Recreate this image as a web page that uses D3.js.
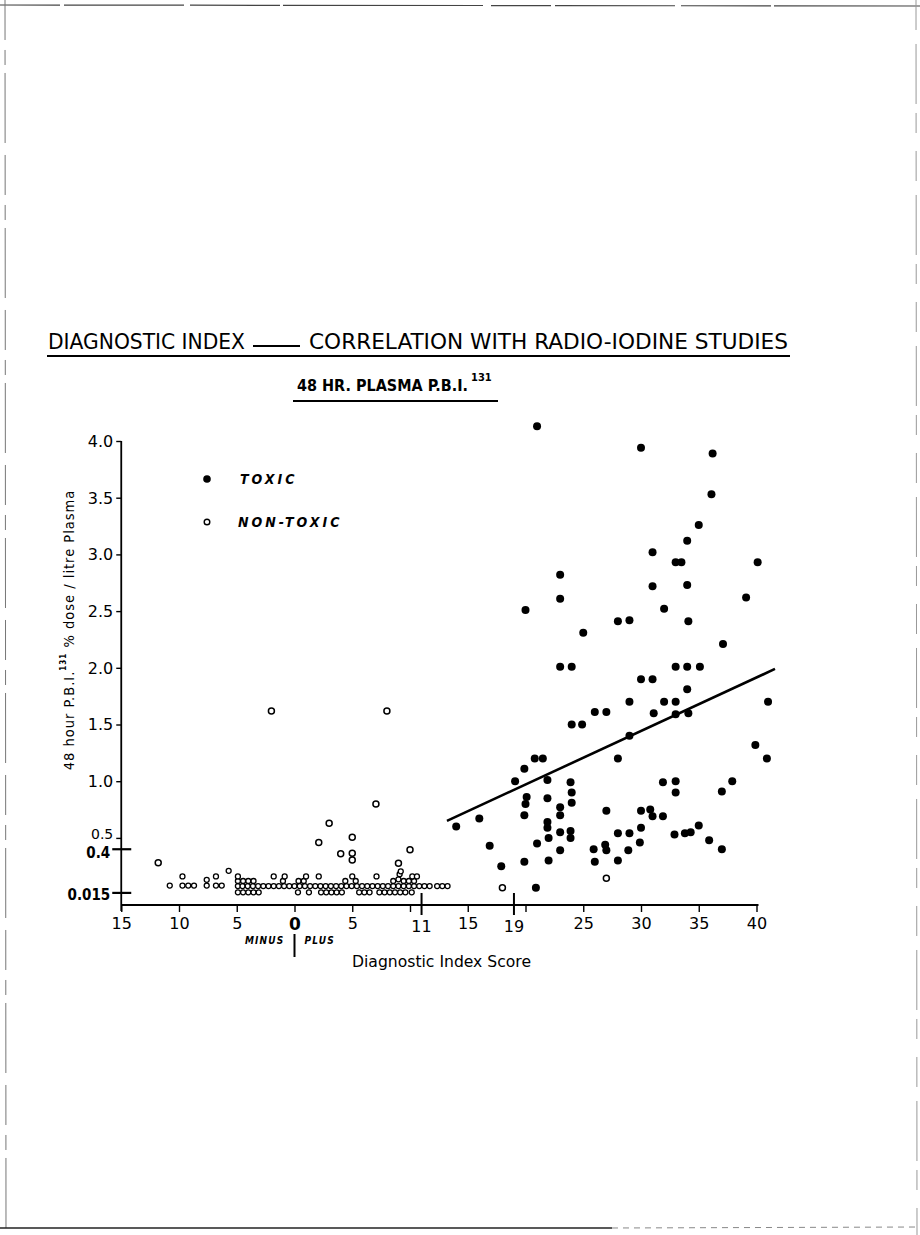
<!DOCTYPE html>
<html>
<head>
<meta charset="utf-8">
<script src="https://cdn.jsdelivr.net/npm/d3@7"></script>
<style>
  body { margin: 0; background: #fff; }
  svg { display: block; }
</style>
</head>
<body>
<svg id="chart" width="920" height="1235"></svg>
<script>
// ---- Data: [diagnostic index score (minus scores negative), 48 hr PBI131 % dose / litre plasma]
const toxic = [
  [21,4.13],[30,3.94],[36.2,3.89],[36.1,3.53],[35,3.26],[34,3.12],[31,3.02],[33,2.93],[33.5,2.93],
  [40.1,2.93],[23,2.82],[31,2.72],[34,2.73],[23,2.61],[39.1,2.62],[20,2.51],[32,2.52],[28,2.41],
  [29,2.42],[34.1,2.41],[25,2.31],[37.1,2.21],[23,2.01],[24,2.01],[33,2.01],[34,2.01],[35.1,2.01],
  [30,1.90],[31,1.90],[34,1.81],[29,1.70],[32,1.70],[33,1.70],[41,1.70],[26,1.61],[27,1.61],
  [31.1,1.60],[33,1.59],[34.1,1.60],[24,1.50],[24.9,1.50],[29,1.40],[39.9,1.32],[20.8,1.20],
  [21.5,1.20],[28,1.20],[40.9,1.20],[19.9,1.11],[19.1,1.00],[21.9,1.01],[23.9,0.99],[31.9,0.99],
  [33,1.00],[37.9,1.00],[37,0.91],[33,0.90],[24,0.90],[20.1,0.86],[21.9,0.85],[20,0.80],[24,0.81],
  [23,0.77],[23,0.70],[19.9,0.70],[27,0.74],[30,0.74],[30.8,0.75],[31,0.69],[31.9,0.69],[14,0.60],
  [16,0.67],[21.9,0.64],[21.9,0.59],[23,0.55],[23.9,0.56],[23.9,0.50],[22,0.50],[28,0.54],[29,0.54],
  [30,0.59],[32.9,0.53],[33.8,0.54],[34.3,0.55],[35,0.61],[35.9,0.48],[37,0.40],[29.9,0.46],
  [16.9,0.43],[21,0.45],[23,0.39],[25.9,0.40],[26.9,0.44],[27,0.39],[28.9,0.39],[17.9,0.25],
  [19.9,0.29],[22,0.30],[26,0.29],[28,0.30],[20.9,0.06]
];

// Non-toxic cases standing clear of the baseline cluster
const nonToxicRaised = [
  [-2,1.62],[8,1.62],[7.05,0.80],[3,0.63],[2.1,0.46],[5,0.505],[4,0.36],[5,0.364],[5,0.305],
  [9,0.276],[10,0.396],[-11.8,0.28],[18,0.06],[27,0.144]
];

// Non-toxic cases packed along the baseline
const nonToxicBaseline = [
  [-10.8,0.08],[-9.7,0.16],[-9.7,0.08],[-9.2,0.08],[-8.7,0.08],[-7.6,0.13],[-7.6,0.08],
  [-6.8,0.16],[-6.8,0.08],[-6.3,0.08],[-5.7,0.21],
  [-4.9,0.075],[-4.5,0.075],[-4.05,0.075],[-3.6,0.075],[-3.15,0.075],[-2.7,0.075],[-2.25,0.075],
  [-1.8,0.075],[-1.35,0.075],[-0.9,0.075],[-0.45,0.075],[0,0.075],[0.45,0.075],[0.9,0.075],
  [1.35,0.075],[1.8,0.075],[2.25,0.075],[2.7,0.075],[3.15,0.075],[3.6,0.075],[4.05,0.075],
  [4.5,0.075],[4.95,0.075],[5.4,0.075],[5.85,0.075],[6.3,0.075],[6.75,0.075],[7.2,0.075],
  [7.65,0.075],[8.1,0.075],[8.55,0.075],[9.0,0.075],[9.45,0.075],[9.9,0.075],[10.35,0.075],
  [10.8,0.075],[11.25,0.075],[11.7,0.075],[12.35,0.075],[12.8,0.075],[13.25,0.075],
  [-4.9,0.02],[-4.45,0.02],[-4.0,0.02],[-3.55,0.02],[-3.1,0.02],[0.3,0.02],[1.25,0.02],
  [2.3,0.02],[2.75,0.02],[3.2,0.02],[3.65,0.02],[4.1,0.02],[5.6,0.02],[6.05,0.02],[6.5,0.02],
  [7.35,0.02],[7.8,0.02],[8.25,0.02],[8.7,0.02],[9.15,0.02],[9.6,0.02],[10.15,0.02],
  [-4.9,0.12],[-4.45,0.12],[-4.0,0.12],[-3.55,0.12],[-1.0,0.12],[0.35,0.12],[0.8,0.12],
  [4.4,0.12],[5.3,0.12],[8.55,0.12],[9.0,0.135],[9.45,0.12],[9.9,0.12],[10.35,0.12],
  [-4.9,0.16],[-1.8,0.16],[-0.85,0.16],[1.0,0.16],[2.1,0.16],[5.0,0.16],[7.1,0.16],
  [9.1,0.18],[10.2,0.16],[10.6,0.16],[9.2,0.205]
];

// Fitted line through the toxic group
const trendLine = [[13.2,0.65],[41.6,1.99]];

// Axis ticks
const yTicks = [0.5,1.0,1.5,2.0,2.5,3.0,3.5,4.0];
const yMarkedTicks = [0.4,0.015];
const yMarkedLabels = ["0.4","0.015"];
const xTicks = [-15,-10,-5,0,5,10,15,20,25,30,35,40];
const xTickLabels = ["15","10","5","0","5","","15","","25","30","35","40"];
const xMarkedTicks = [11,19];
const xMarkedLabels = ["11","19"];

// ---- Drawing
const svg = d3.select("#chart");
const FONT = "'DejaVu Sans Condensed','DejaVu Sans',sans-serif";
const TICK_FONT = "'DejaVu Sans',sans-serif";
svg.append("rect").attr("width", 920).attr("height", 1235).attr("fill", "#fff");

// scanned sheet edges
const edge = svg.append("g").attr("fill", "none");
edge.append("line").attr("x1", 0).attr("x2", 920).attr("y1", 5).attr("y2", 6)
  .attr("stroke", "#444").attr("stroke-width", 1.2).attr("stroke-dasharray", "60 4 120 6 90 3 200 8");
edge.append("line").attr("x1", 5).attr("x2", 6).attr("y1", 0).attr("y2", 1235)
  .attr("stroke", "#777").attr("stroke-width", 1).attr("stroke-dasharray", "40 10 15 8 70 12");
edge.append("line").attr("x1", 916).attr("x2", 917).attr("y1", 0).attr("y2", 1235)
  .attr("stroke", "#999").attr("stroke-width", 1).attr("stroke-dasharray", "30 14 60 9 20 18");
edge.append("line").attr("x1", 0).attr("x2", 612).attr("y1", 1228).attr("y2", 1228)
  .attr("stroke", "#222").attr("stroke-width", 1.6);
edge.append("line").attr("x1", 612).attr("x2", 920).attr("y1", 1228).attr("y2", 1227)
  .attr("stroke", "#888").attr("stroke-width", 1).attr("stroke-dasharray", "6 5");

const x = d3.scaleLinear().domain([-15, 40]).range([121.25, 756.5]);
const y = d3.scaleLinear().domain([0, 4]).range([894.6, 441]);
const xAxisY = 905;
const yAxisX = x(-15);

// Titles
const title = svg.append("g").attr("font-family", FONT).attr("fill", "#000");
title.append("text").attr("x", 48).attr("y", 349).attr("font-size", 21)
  .attr("textLength", 197).attr("lengthAdjust", "spacingAndGlyphs").text("DIAGNOSTIC INDEX");
title.append("line").attr("x1", 253).attr("x2", 300).attr("y1", 346).attr("y2", 346)
  .attr("stroke", "#000").attr("stroke-width", 1.8);
title.append("text").attr("x", 309).attr("y", 349).attr("font-size", 21)
  .attr("textLength", 479).attr("lengthAdjust", "spacingAndGlyphs")
  .text("CORRELATION WITH RADIO-IODINE STUDIES");
title.append("line").attr("x1", 47).attr("x2", 790).attr("y1", 356).attr("y2", 356)
  .attr("stroke", "#000").attr("stroke-width", 2);

title.append("text").attr("x", 297).attr("y", 391).attr("font-size", 15).attr("font-weight", "bold")
  .attr("textLength", 171).attr("lengthAdjust", "spacingAndGlyphs").text("48 HR. PLASMA  P.B.I.");
title.append("text").attr("x", 471).attr("y", 381).attr("font-size", 11).attr("font-weight", "bold")
  .text("131");
title.append("line").attr("x1", 293).attr("x2", 498).attr("y1", 401).attr("y2", 401)
  .attr("stroke", "#000").attr("stroke-width", 2);

// Y axis
const gy = svg.append("g").attr("transform", `translate(${yAxisX},0)`)
  .call(d3.axisLeft(y).tickValues(yTicks).tickSize(5).tickPadding(3).tickFormat(d3.format(".1f")));
gy.select(".domain").remove();
gy.selectAll(".tick line").attr("stroke", "#000").attr("stroke-width", 1.4);
gy.selectAll(".tick text").attr("font-family", TICK_FONT).attr("fill", "#000")
  .attr("font-size", d => d === 0.5 ? 14 : 16)
  .attr("dy", d => d === 0.5 ? "0.02em" : "0.34em");
svg.append("line").attr("x1", yAxisX).attr("x2", yAxisX).attr("y1", y(4)).attr("y2", xAxisY + 6)
  .attr("stroke", "#000").attr("stroke-width", 1.8);

const marked = svg.append("g");
yMarkedTicks.forEach((v, i) => {
  marked.append("line").attr("x1", yAxisX - 9).attr("x2", yAxisX + 10).attr("y1", y(v)).attr("y2", y(v))
    .attr("stroke", "#000").attr("stroke-width", 2.2);
  marked.append("text").attr("x", yAxisX - 11).attr("y", y(v)).attr("dy", i === 0 ? "0.58em" : "0.45em")
    .attr("text-anchor", "end").attr("font-family", FONT).attr("font-size", 15)
    .attr("font-weight", "bold").text(yMarkedLabels[i]);
});

// X axis
const gx = svg.append("g").attr("transform", `translate(0,${xAxisY})`)
  .call(d3.axisBottom(x).tickValues(xTicks).tickSize(7).tickPadding(6)
    .tickFormat((d, i) => xTickLabels[i]));
gx.select(".domain").remove();
gx.selectAll(".tick line").attr("stroke", "#000").attr("stroke-width", 1.4);
gx.selectAll(".tick text").attr("font-family", TICK_FONT).attr("fill", "#000")
  .attr("font-weight", d => d === 0 ? "bold" : "normal")
  .attr("font-size", d => d === 0 ? 17 : 16);
svg.append("line").attr("x1", yAxisX).attr("x2", x(40) + 2).attr("y1", xAxisY).attr("y2", xAxisY)
  .attr("stroke", "#000").attr("stroke-width", 1.8);
xMarkedTicks.forEach((v, i) => {
  svg.append("line").attr("x1", x(v)).attr("x2", x(v)).attr("y1", xAxisY - 12).attr("y2", xAxisY + 10)
    .attr("stroke", "#000").attr("stroke-width", 2);
  svg.append("text").attr("x", x(v)).attr("y", xAxisY + 27).attr("text-anchor", "middle")
    .attr("font-family", TICK_FONT).attr("font-size", 16).text(xMarkedLabels[i]);
});

// minus / plus divider
const mp = svg.append("g").attr("font-family", FONT).attr("font-weight", "bold")
  .attr("font-style", "italic").attr("font-size", 10).attr("letter-spacing", 1.2);
mp.append("text").attr("x", x(0) - 10).attr("y", 944).attr("text-anchor", "end").text("MINUS");
mp.append("text").attr("x", x(0) + 10).attr("y", 944).text("PLUS");
svg.append("line").attr("x1", x(0)).attr("x2", x(0)).attr("y1", 934).attr("y2", 957)
  .attr("stroke", "#000").attr("stroke-width", 2);

svg.append("text").attr("x", 352).attr("y", 967).attr("font-family", FONT).attr("font-size", 15)
  .attr("textLength", 179).attr("lengthAdjust", "spacingAndGlyphs").text("Diagnostic Index Score");

// Y axis title
const yt = svg.append("text").attr("transform", "translate(74,630) rotate(-90)")
  .attr("text-anchor", "middle").attr("font-family", FONT).attr("font-size", 14.5)
  .attr("letter-spacing", 1);
yt.append("tspan").text("48 hour P.B.I.");
yt.append("tspan").attr("font-size", 8).attr("dy", -8).attr("font-weight", "bold").text("131");
yt.append("tspan").attr("dy", 8).text(" % dose / litre Plasma");

// Legend
const lg = svg.append("g").attr("font-family", FONT).attr("font-weight", "bold")
  .attr("font-style", "italic").attr("font-size", 14).attr("letter-spacing", 3);
lg.append("circle").attr("cx", 207).attr("cy", 479).attr("r", 3.8).attr("fill", "#000");
lg.append("text").attr("x", 240).attr("y", 484).text("TOXIC");
lg.append("circle").attr("cx", 207).attr("cy", 522).attr("r", 2.8).attr("fill", "#fff")
  .attr("stroke", "#000").attr("stroke-width", 1.4);
lg.append("text").attr("x", 238).attr("y", 527).text("NON-TOXIC");

// Trend line
svg.append("path").datum(trendLine)
  .attr("d", d3.line().x(d => x(d[0])).y(d => y(d[1])))
  .attr("fill", "none").attr("stroke", "#000").attr("stroke-width", 2.6);

// Non-toxic points
svg.append("g").selectAll("circle").data(nonToxicBaseline).join("circle")
  .attr("cx", d => x(d[0])).attr("cy", d => y(d[1])).attr("r", 2.5)
  .attr("fill", "#fff").attr("stroke", "#000").attr("stroke-width", 1.3);
svg.append("g").selectAll("circle").data(nonToxicRaised).join("circle")
  .attr("cx", d => x(d[0])).attr("cy", d => y(d[1])).attr("r", 3)
  .attr("fill", "#fff").attr("stroke", "#000").attr("stroke-width", 1.5);

// Toxic points
svg.append("g").selectAll("circle").data(toxic).join("circle")
  .attr("cx", d => x(d[0])).attr("cy", d => y(d[1])).attr("r", 4)
  .attr("fill", "#000");
</script>
</body>
</html>
